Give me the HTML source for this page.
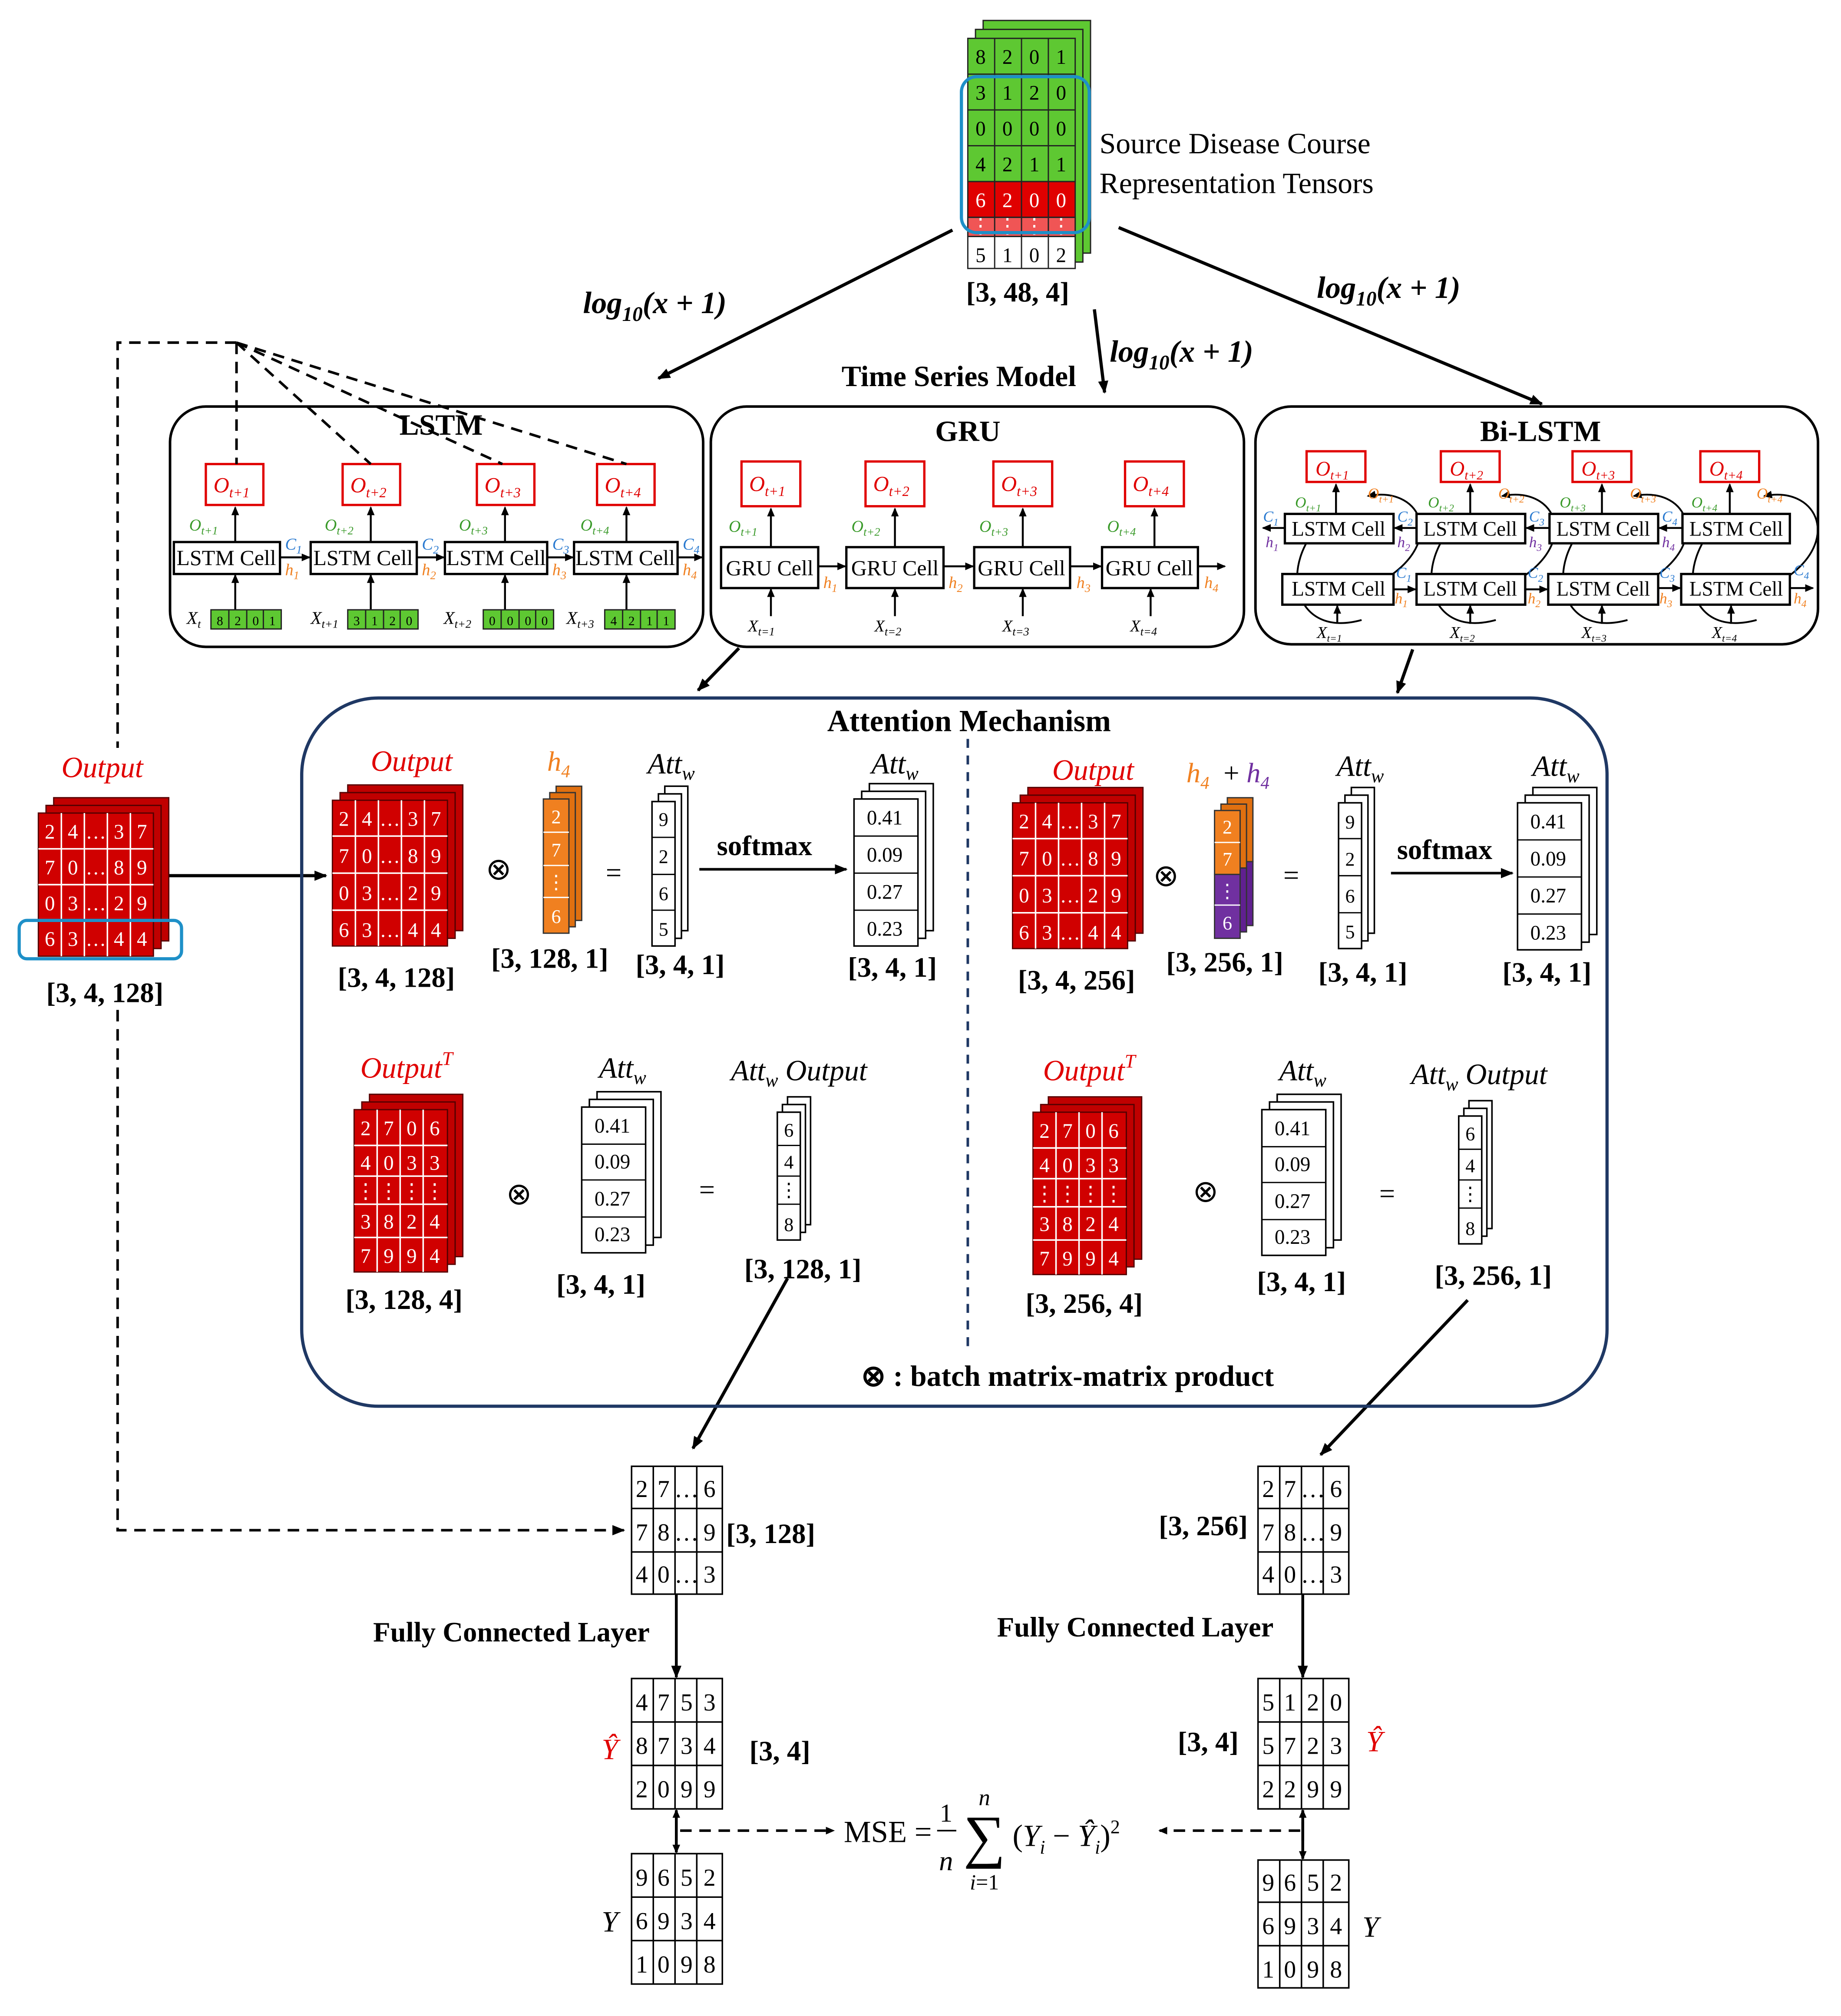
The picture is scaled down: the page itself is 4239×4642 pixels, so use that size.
<!DOCTYPE html>
<html><head><meta charset="utf-8"><style>
html,body{margin:0;padding:0;background:#fff;}
svg{display:block;}
text{font-family:"Liberation Serif",serif;}
.b{font-weight:bold;}
.i{font-style:italic;}
</style></head><body>
<svg width="4239" height="4642" viewBox="0 0 1440 1577" preserveAspectRatio="none" xmlns="http://www.w3.org/2000/svg">
<defs>
<marker id="a" markerWidth="10" markerHeight="10" refX="9" refY="5" orient="auto" markerUnits="userSpaceOnUse"><path d="M0,1 L10,5 L0,9 z" fill="#000"/></marker>
<marker id="s" markerWidth="7" markerHeight="7" refX="6" refY="3.5" orient="auto" markerUnits="userSpaceOnUse"><path d="M0,0.5 L7,3.5 L0,6.5 z" fill="#000"/></marker>
</defs>
<rect width="1440" height="1577" fill="#fff"/>

<!-- Top tensor -->
<g stroke="#222" stroke-width="1">
<rect x="769" y="16" width="84" height="182" fill="#5ec832"/>
<rect x="763" y="23" width="84" height="182" fill="#5ec832"/>
<rect x="757" y="30" width="84" height="112" fill="#5ec832"/>
<rect x="757" y="142" width="84" height="43" fill="#e00000"/>
<rect x="757" y="170" width="84" height="15" fill="#f05555"/>
<rect x="757" y="185" width="84" height="25" fill="#fff"/>
<path d="M778,30V210M799,30V210M820,30V210M757,58H841M757,86H841M757,114H841M757,142H841M757,170H841" fill="none"/>
</g>
<g font-size="16" text-anchor="middle">
<text x="767" y="50">8</text><text x="788" y="50">2</text><text x="809" y="50">0</text><text x="830" y="50">1</text>
<text x="767" y="78">3</text><text x="788" y="78">1</text><text x="809" y="78">2</text><text x="830" y="78">0</text>
<text x="767" y="106">0</text><text x="788" y="106">0</text><text x="809" y="106">0</text><text x="830" y="106">0</text>
<text x="767" y="134">4</text><text x="788" y="134">2</text><text x="809" y="134">1</text><text x="830" y="134">1</text>
<text x="767" y="162" fill="#fff">6</text><text x="788" y="162" fill="#fff">2</text><text x="809" y="162" fill="#fff">0</text><text x="830" y="162" fill="#fff">0</text>
<text x="767" y="182" fill="#fff">⋮</text><text x="788" y="182" fill="#fff">⋮</text><text x="809" y="182" fill="#fff">⋮</text><text x="830" y="182" fill="#fff">⋮</text>
<text x="767" y="205">5</text><text x="788" y="205">1</text><text x="809" y="205">0</text><text x="830" y="205">2</text>
</g>
<rect x="752" y="60" width="100" height="122" rx="12" fill="none" stroke="#1e90c8" stroke-width="2.5"/>
<text x="860" y="120" font-size="23">Source Disease Course</text>
<text x="860" y="151" font-size="23">Representation Tensors</text>
<text x="796" y="236" font-size="22" class="b" text-anchor="middle">[3, 48, 4]</text>

<!-- top arrows -->
<g stroke="#000" stroke-width="2.5" fill="none">
<line x1="745" y1="180" x2="515" y2="296" marker-end="url(#a)"/>
<line x1="856" y1="242" x2="864" y2="307" marker-end="url(#a)"/>
<line x1="875" y1="178" x2="1206" y2="316" marker-end="url(#a)"/>
</g>
<g font-size="24" class="b i">
<text x="456" y="245">log<tspan font-size="16" dy="6">10</tspan><tspan dy="-6">(x + 1)</tspan></text>
<text x="868" y="283">log<tspan font-size="16" dy="6">10</tspan><tspan dy="-6">(x + 1)</tspan></text>
<text x="1030" y="233">log<tspan font-size="16" dy="6">10</tspan><tspan dy="-6">(x + 1)</tspan></text>
</g>
<text x="750" y="302" font-size="23" class="b" text-anchor="middle">Time Series Model</text>

<!-- model boxes -->
<g fill="none" stroke="#000" stroke-width="2">
<rect x="133" y="318" width="417" height="188" rx="28"/>
<rect x="556" y="318" width="417" height="188" rx="28"/>
<rect x="982" y="318" width="440" height="186" rx="28"/>
</g>
<text x="345" y="340" font-size="23" class="b" text-anchor="middle">LSTM</text>
<text x="757" y="345" font-size="23" class="b" text-anchor="middle">GRU</text>
<text x="1205" y="345" font-size="23" class="b" text-anchor="middle">Bi-LSTM</text>

<!-- LSTM contents -->
<g fill="none" stroke="#e00000" stroke-width="1.8">
<rect x="161" y="363" width="45" height="32"/><rect x="268" y="363" width="45" height="32"/><rect x="373" y="363" width="45" height="32"/><rect x="467" y="363" width="45" height="32"/>
</g>
<g font-size="17" fill="#e00000" class="i">
<text x="167" y="385">O<tspan font-size="11" dy="4">t+1</tspan></text><text x="274" y="385">O<tspan font-size="11" dy="4">t+2</tspan></text><text x="379" y="385">O<tspan font-size="11" dy="4">t+3</tspan></text><text x="473" y="385">O<tspan font-size="11" dy="4">t+4</tspan></text>
</g>
<g fill="#fff" stroke="#000" stroke-width="1.8">
<rect x="136" y="424" width="83" height="25"/><rect x="243" y="424" width="83" height="25"/><rect x="348" y="424" width="80" height="25"/><rect x="449" y="424" width="81" height="25"/>
</g>
<g font-size="17" text-anchor="middle"><text x="177" y="442">LSTM Cell</text><text x="284" y="442">LSTM Cell</text><text x="388" y="442">LSTM Cell</text><text x="489" y="442">LSTM Cell</text></g>
<g stroke="#000" stroke-width="1.5" fill="none">
<line x1="184" y1="424" x2="184" y2="397" marker-end="url(#s)"/><line x1="290" y1="424" x2="290" y2="397" marker-end="url(#s)"/><line x1="395" y1="424" x2="395" y2="397" marker-end="url(#s)"/><line x1="490" y1="424" x2="490" y2="397" marker-end="url(#s)"/>
<line x1="219" y1="436" x2="242" y2="436" marker-end="url(#s)"/><line x1="326" y1="436" x2="347" y2="436" marker-end="url(#s)"/><line x1="428" y1="436" x2="448" y2="436" marker-end="url(#s)"/><line x1="530" y1="436" x2="549" y2="436" marker-end="url(#s)"/>
<line x1="184" y1="477" x2="184" y2="450" marker-end="url(#s)"/><line x1="290" y1="477" x2="290" y2="450" marker-end="url(#s)"/><line x1="395" y1="477" x2="395" y2="450" marker-end="url(#s)"/><line x1="490" y1="477" x2="490" y2="450" marker-end="url(#s)"/>
</g>
<g font-size="13" class="i" fill="#3a9a2a"><text x="148" y="415">O<tspan font-size="9" dy="3">t+1</tspan></text><text x="254" y="415">O<tspan font-size="9" dy="3">t+2</tspan></text><text x="359" y="415">O<tspan font-size="9" dy="3">t+3</tspan></text><text x="454" y="415">O<tspan font-size="9" dy="3">t+4</tspan></text></g>
<g font-size="13" class="i" fill="#2a7ad0"><text x="223" y="430">C<tspan font-size="9" dy="3">1</tspan></text><text x="330" y="430">C<tspan font-size="9" dy="3">2</tspan></text><text x="432" y="430">C<tspan font-size="9" dy="3">3</tspan></text><text x="534" y="430">C<tspan font-size="9" dy="3">4</tspan></text></g>
<g font-size="13" class="i" fill="#f08020"><text x="223" y="450">h<tspan font-size="9" dy="3">1</tspan></text><text x="330" y="450">h<tspan font-size="9" dy="3">2</tspan></text><text x="432" y="450">h<tspan font-size="9" dy="3">3</tspan></text><text x="534" y="450">h<tspan font-size="9" dy="3">4</tspan></text></g>
<g fill="#5ec832" stroke="#222" stroke-width="1">
<rect x="165" y="477" width="55" height="15"/><rect x="272" y="477" width="55" height="15"/><rect x="378" y="477" width="55" height="15"/><rect x="473" y="477" width="55" height="15"/>
<path d="M179,477v15M193,477v15M206,477v15M286,477v15M300,477v15M313,477v15M392,477v15M406,477v15M419,477v15M487,477v15M501,477v15M514,477v15"/>
</g>
<g font-size="10" text-anchor="middle">
<text x="172" y="489">8</text><text x="186" y="489">2</text><text x="200" y="489">0</text><text x="213" y="489">1</text>
<text x="279" y="489">3</text><text x="293" y="489">1</text><text x="307" y="489">2</text><text x="320" y="489">0</text>
<text x="385" y="489">0</text><text x="399" y="489">0</text><text x="413" y="489">0</text><text x="426" y="489">0</text>
<text x="480" y="489">4</text><text x="494" y="489">2</text><text x="508" y="489">1</text><text x="521" y="489">1</text>
</g>
<g font-size="14" class="i"><text x="146" y="488">X<tspan font-size="9" dy="3">t</tspan></text><text x="243" y="488">X<tspan font-size="9" dy="3">t+1</tspan></text><text x="347" y="488">X<tspan font-size="9" dy="3">t+2</tspan></text><text x="443" y="488">X<tspan font-size="9" dy="3">t+3</tspan></text></g>

<!-- GRU contents -->
<g fill="none" stroke="#e00000" stroke-width="1.8">
<rect x="580" y="361" width="46" height="35"/><rect x="677" y="361" width="46" height="35"/><rect x="777" y="361" width="46" height="35"/><rect x="880" y="361" width="46" height="35"/>
</g>
<g font-size="17" fill="#e00000" class="i">
<text x="586" y="384">O<tspan font-size="11" dy="4">t+1</tspan></text><text x="683" y="384">O<tspan font-size="11" dy="4">t+2</tspan></text><text x="783" y="384">O<tspan font-size="11" dy="4">t+3</tspan></text><text x="886" y="384">O<tspan font-size="11" dy="4">t+4</tspan></text>
</g>
<g fill="#fff" stroke="#000" stroke-width="1.8">
<rect x="564" y="428" width="76" height="32"/><rect x="662" y="428" width="76" height="32"/><rect x="762" y="428" width="75" height="32"/><rect x="862" y="428" width="75" height="32"/>
</g>
<g font-size="17" text-anchor="middle"><text x="602" y="450">GRU Cell</text><text x="700" y="450">GRU Cell</text><text x="799" y="450">GRU Cell</text><text x="899" y="450">GRU Cell</text></g>
<g stroke="#000" stroke-width="1.5" fill="none">
<line x1="603" y1="428" x2="603" y2="398" marker-end="url(#s)"/><line x1="700" y1="428" x2="700" y2="398" marker-end="url(#s)"/><line x1="800" y1="428" x2="800" y2="398" marker-end="url(#s)"/><line x1="903" y1="428" x2="903" y2="398" marker-end="url(#s)"/>
<line x1="640" y1="443" x2="661" y2="443" marker-end="url(#s)"/><line x1="738" y1="443" x2="761" y2="443" marker-end="url(#s)"/><line x1="837" y1="443" x2="861" y2="443" marker-end="url(#s)"/><line x1="937" y1="443" x2="958" y2="443" marker-end="url(#s)"/>
<line x1="603" y1="482" x2="603" y2="461" marker-end="url(#s)"/><line x1="700" y1="482" x2="700" y2="461" marker-end="url(#s)"/><line x1="800" y1="482" x2="800" y2="461" marker-end="url(#s)"/><line x1="900" y1="482" x2="900" y2="461" marker-end="url(#s)"/>
</g>
<g font-size="13" class="i" fill="#3a9a2a"><text x="570" y="416">O<tspan font-size="9" dy="3">t+1</tspan></text><text x="666" y="416">O<tspan font-size="9" dy="3">t+2</tspan></text><text x="766" y="416">O<tspan font-size="9" dy="3">t+3</tspan></text><text x="866" y="416">O<tspan font-size="9" dy="3">t+4</tspan></text></g>
<g font-size="13" class="i" fill="#f08020"><text x="644" y="460">h<tspan font-size="9" dy="3">1</tspan></text><text x="742" y="460">h<tspan font-size="9" dy="3">2</tspan></text><text x="842" y="460">h<tspan font-size="9" dy="3">3</tspan></text><text x="942" y="460">h<tspan font-size="9" dy="3">4</tspan></text></g>
<g font-size="13" class="i"><text x="585" y="494">X<tspan font-size="9" dy="3">t=1</tspan></text><text x="684" y="494">X<tspan font-size="9" dy="3">t=2</tspan></text><text x="784" y="494">X<tspan font-size="9" dy="3">t=3</tspan></text><text x="884" y="494">X<tspan font-size="9" dy="3">t=4</tspan></text></g>

<!-- Bi-LSTM contents -->
<g fill="none" stroke="#e00000" stroke-width="1.8">
<rect x="1022" y="353" width="46" height="24"/><rect x="1127" y="353" width="46" height="24"/><rect x="1230" y="353" width="46" height="24"/><rect x="1330" y="353" width="46" height="24"/>
</g>
<g font-size="16" fill="#e00000" class="i">
<text x="1029" y="372">O<tspan font-size="10" dy="3">t+1</tspan></text><text x="1134" y="372">O<tspan font-size="10" dy="3">t+2</tspan></text><text x="1237" y="372">O<tspan font-size="10" dy="3">t+3</tspan></text><text x="1337" y="372">O<tspan font-size="10" dy="3">t+4</tspan></text>
</g>
<g fill="none" stroke="#000" stroke-width="1.4">
<path d="M1088,450 C1130,420 1110,380 1070,388" marker-end="url(#s)"/>
<path d="M1193,450 C1235,420 1215,380 1175,388" marker-end="url(#s)"/>
<path d="M1296,450 C1338,420 1318,380 1278,388" marker-end="url(#s)"/>
<path d="M1400,450 C1440,420 1420,380 1380,388" marker-end="url(#s)"/>
<path d="M1065,485 C1010,500 1000,440 1035,408" marker-end="url(#s)"/>
<path d="M1170,485 C1115,500 1105,440 1140,408" marker-end="url(#s)"/>
<path d="M1273,485 C1218,500 1208,440 1243,408" marker-end="url(#s)"/>
<path d="M1374,485 C1318,500 1310,440 1345,408" marker-end="url(#s)"/>
</g>
<g fill="#fff" stroke="#000" stroke-width="1.8">
<rect x="1005" y="402" width="85" height="23"/><rect x="1108" y="402" width="85" height="23"/><rect x="1212" y="402" width="85" height="23"/><rect x="1316" y="402" width="84" height="23"/>
<rect x="1003" y="449" width="87" height="24"/><rect x="1108" y="449" width="85" height="24"/><rect x="1211" y="449" width="86" height="24"/><rect x="1315" y="449" width="85" height="24"/>
</g>
<g font-size="16" text-anchor="middle">
<text x="1047" y="419">LSTM Cell</text><text x="1150" y="419">LSTM Cell</text><text x="1254" y="419">LSTM Cell</text><text x="1358" y="419">LSTM Cell</text>
<text x="1047" y="466">LSTM Cell</text><text x="1150" y="466">LSTM Cell</text><text x="1254" y="466">LSTM Cell</text><text x="1358" y="466">LSTM Cell</text>
</g>
<g stroke="#000" stroke-width="1.5" fill="none">
<line x1="1045" y1="402" x2="1045" y2="379" marker-end="url(#s)"/><line x1="1150" y1="402" x2="1150" y2="379" marker-end="url(#s)"/><line x1="1253" y1="402" x2="1253" y2="379" marker-end="url(#s)"/><line x1="1353" y1="402" x2="1353" y2="379" marker-end="url(#s)"/>
<line x1="1005" y1="413" x2="988" y2="413" marker-end="url(#s)"/><line x1="1108" y1="413" x2="1091" y2="413" marker-end="url(#s)"/><line x1="1212" y1="413" x2="1194" y2="413" marker-end="url(#s)"/><line x1="1316" y1="413" x2="1298" y2="413" marker-end="url(#s)"/>
<line x1="1090" y1="461" x2="1107" y2="461" marker-end="url(#s)"/><line x1="1193" y1="461" x2="1210" y2="461" marker-end="url(#s)"/><line x1="1297" y1="460" x2="1314" y2="460" marker-end="url(#s)"/><line x1="1400" y1="460" x2="1418" y2="460" marker-end="url(#s)"/>
<line x1="1046" y1="488" x2="1046" y2="474" marker-end="url(#s)"/><line x1="1150" y1="488" x2="1150" y2="474" marker-end="url(#s)"/><line x1="1253" y1="488" x2="1253" y2="474" marker-end="url(#s)"/><line x1="1354" y1="488" x2="1354" y2="474" marker-end="url(#s)"/>
</g>
<g font-size="12" class="i" fill="#3a9a2a"><text x="1013" y="397">O<tspan font-size="8" dy="3">t+1</tspan></text><text x="1117" y="397">O<tspan font-size="8" dy="3">t+2</tspan></text><text x="1220" y="397">O<tspan font-size="8" dy="3">t+3</tspan></text><text x="1323" y="397">O<tspan font-size="8" dy="3">t+4</tspan></text></g>
<g font-size="12" class="i" fill="#f08020"><text x="1070" y="390">O<tspan font-size="8" dy="3">t+1</tspan></text><text x="1172" y="390">O<tspan font-size="8" dy="3">t+2</tspan></text><text x="1275" y="390">O<tspan font-size="8" dy="3">t+3</tspan></text><text x="1374" y="390">O<tspan font-size="8" dy="3">t+4</tspan></text>
<text x="1091" y="472">h<tspan font-size="8" dy="3">1</tspan></text><text x="1195" y="472">h<tspan font-size="8" dy="3">2</tspan></text><text x="1298" y="472">h<tspan font-size="8" dy="3">3</tspan></text><text x="1403" y="472">h<tspan font-size="8" dy="3">4</tspan></text></g>
<g font-size="12" class="i" fill="#2a7ad0"><text x="988" y="408">C<tspan font-size="8" dy="3">1</tspan></text><text x="1093" y="408">C<tspan font-size="8" dy="3">2</tspan></text><text x="1196" y="408">C<tspan font-size="8" dy="3">3</tspan></text><text x="1300" y="408">C<tspan font-size="8" dy="3">4</tspan></text>
<text x="1092" y="452">C<tspan font-size="8" dy="3">1</tspan></text><text x="1195" y="452">C<tspan font-size="8" dy="3">2</tspan></text><text x="1298" y="452">C<tspan font-size="8" dy="3">3</tspan></text><text x="1403" y="450">C<tspan font-size="8" dy="3">4</tspan></text></g>
<g font-size="12" class="i" fill="#7030a0"><text x="990" y="428">h<tspan font-size="8" dy="3">1</tspan></text><text x="1093" y="428">h<tspan font-size="8" dy="3">2</tspan></text><text x="1196" y="428">h<tspan font-size="8" dy="3">3</tspan></text><text x="1300" y="428">h<tspan font-size="8" dy="3">4</tspan></text></g>
<g font-size="13" class="i"><text x="1030" y="499">X<tspan font-size="8" dy="3">t=1</tspan></text><text x="1134" y="499">X<tspan font-size="8" dy="3">t=2</tspan></text><text x="1237" y="499">X<tspan font-size="8" dy="3">t=3</tspan></text><text x="1339" y="499">X<tspan font-size="8" dy="3">t=4</tspan></text></g>

<!-- dashed lines -->
<g stroke="#000" stroke-width="2" stroke-dasharray="9,6" fill="none">
<line x1="185" y1="268" x2="185" y2="363"/>
<line x1="185" y1="268" x2="290" y2="363"/>
<line x1="185" y1="268" x2="393" y2="363"/>
<line x1="185" y1="268" x2="490" y2="363"/>
<polyline points="185,268 92,268 92,585"/>
<polyline points="92,790 92,1197 488,1197" marker-end="url(#a)"/>
<line x1="532" y1="1432" x2="652" y2="1432" marker-end="url(#s)"/>
<line x1="1017" y1="1432" x2="907" y2="1432" marker-end="url(#s)"/>
</g>

<!-- arrows to attention -->
<g stroke="#000" stroke-width="2.5" fill="none">
<line x1="578" y1="507" x2="546" y2="540" marker-end="url(#a)"/>
<line x1="1105" y1="508" x2="1093" y2="542" marker-end="url(#a)"/>
<line x1="132" y1="685" x2="255" y2="685" marker-end="url(#a)"/>
<line x1="616" y1="1000" x2="542" y2="1133" marker-end="url(#a)"/>
<line x1="1148" y1="1017" x2="1033" y2="1138" marker-end="url(#a)"/>
</g>

<!-- Attention box -->
<rect x="236" y="546" width="1021" height="554" rx="60" fill="none" stroke="#1f3864" stroke-width="2.5"/>
<line x1="757" y1="578" x2="757" y2="1055" stroke="#1f3864" stroke-width="2" stroke-dasharray="7,6"/>
<text x="758" y="572" font-size="24" class="b" text-anchor="middle">Attention Mechanism</text>
<text x="835" y="1084" font-size="23" class="b" text-anchor="middle">⊗ : batch matrix-matrix product</text>

<!-- Left Output tensor -->
<text x="80" y="608" font-size="23" class="i" fill="#e00000" text-anchor="middle">Output</text>
<g stroke="#500" stroke-width="1"><rect x="42" y="624" width="90" height="112" fill="#c00000"/><rect x="36" y="630" width="90" height="112" fill="#c00000"/><rect x="30" y="636" width="90" height="112" fill="#d00000"/></g>
<path d="M48,636v112M66,636v112M84,636v112M102,636v112M30,664h90M30,692h90M30,720h90" stroke="#fff" stroke-width="1.2"/>
<g font-size="16" fill="#fff" text-anchor="middle">
<text x="39" y="656">2</text><text x="57" y="656">4</text><text x="75" y="656">…</text><text x="93" y="656">3</text><text x="111" y="656">7</text>
<text x="39" y="684">7</text><text x="57" y="684">0</text><text x="75" y="684">…</text><text x="93" y="684">8</text><text x="111" y="684">9</text>
<text x="39" y="712">0</text><text x="57" y="712">3</text><text x="75" y="712">…</text><text x="93" y="712">2</text><text x="111" y="712">9</text>
<text x="39" y="740">6</text><text x="57" y="740">3</text><text x="75" y="740">…</text><text x="93" y="740">4</text><text x="111" y="740">4</text>
</g>
<rect x="15" y="720" width="127" height="30" rx="6" fill="none" stroke="#1e90c8" stroke-width="2.5"/>
<text x="82" y="784" font-size="22" class="b" text-anchor="middle">[3, 4, 128]</text>

<!-- Attention left top -->
<text x="322" y="603" font-size="23" class="i" fill="#e00000" text-anchor="middle">Output</text>
<g stroke="#500" stroke-width="1"><rect x="272" y="614" width="90" height="114" fill="#c00000"/><rect x="266" y="620" width="90" height="114" fill="#c00000"/><rect x="260" y="626" width="90" height="114" fill="#d00000"/></g>
<path d="M278,626v114M296,626v114M314,626v114M332,626v114M260,654h90M260,683h90M260,712h90" stroke="#fff" stroke-width="1.2"/>
<g font-size="16" fill="#fff" text-anchor="middle">
<text x="269" y="646">2</text><text x="287" y="646">4</text><text x="305" y="646">…</text><text x="323" y="646">3</text><text x="341" y="646">7</text>
<text x="269" y="675">7</text><text x="287" y="675">0</text><text x="305" y="675">…</text><text x="323" y="675">8</text><text x="341" y="675">9</text>
<text x="269" y="704">0</text><text x="287" y="704">3</text><text x="305" y="704">…</text><text x="323" y="704">2</text><text x="341" y="704">9</text>
<text x="269" y="733">6</text><text x="287" y="733">3</text><text x="305" y="733">…</text><text x="323" y="733">4</text><text x="341" y="733">4</text>
</g>
<text x="310" y="772" font-size="22" class="b" text-anchor="middle">[3, 4, 128]</text>
<text x="390" y="688" font-size="24" text-anchor="middle">⊗</text>
<text x="437" y="603" font-size="22" class="i" fill="#f08020" text-anchor="middle">h<tspan font-size="14" dy="5">4</tspan></text>
<g stroke="#333" stroke-width="1"><rect x="435" y="615" width="20" height="105" fill="#e07010"/><rect x="430" y="620" width="20" height="105" fill="#e07010"/><rect x="425" y="625" width="20" height="105" fill="#f08020"/></g>
<path d="M425,651h20M425,677h20M425,702h20" stroke="#fff"/>
<g font-size="15" fill="#fff" text-anchor="middle"><text x="435" y="644">2</text><text x="435" y="670">7</text><text x="435" y="695">⋮</text><text x="435" y="722">6</text></g>
<text x="430" y="757" font-size="22" class="b" text-anchor="middle">[3, 128, 1]</text>
<text x="480" y="690" font-size="22" text-anchor="middle">=</text>
<text x="525" y="605" font-size="23" class="i" text-anchor="middle">Att<tspan font-size="15" dy="5">w</tspan></text>
<g stroke="#000" stroke-width="1.2" fill="#fff"><rect x="520" y="615" width="18" height="113"/><rect x="515" y="621" width="18" height="113"/><rect x="510" y="627" width="18" height="113"/></g>
<path d="M510,655h18M510,684h18M510,712h18" stroke="#000"/>
<g font-size="15" text-anchor="middle"><text x="519" y="646">9</text><text x="519" y="675">2</text><text x="519" y="704">6</text><text x="519" y="732">5</text></g>
<text x="532" y="762" font-size="22" class="b" text-anchor="middle">[3, 4, 1]</text>
<text x="598" y="669" font-size="22" class="b" text-anchor="middle">softmax</text>
<line x1="547" y1="680" x2="662" y2="680" stroke="#000" stroke-width="2" marker-end="url(#a)"/>
<text x="700" y="605" font-size="23" class="i" text-anchor="middle">Att<tspan font-size="15" dy="5">w</tspan></text>
<g stroke="#000" stroke-width="1.2" fill="#fff"><rect x="680" y="613" width="50" height="115"/><rect x="674" y="619" width="50" height="115"/><rect x="668" y="625" width="50" height="115"/></g>
<path d="M668,654h50M668,683h50M668,712h50" stroke="#000"/>
<g font-size="16" text-anchor="middle"><text x="692" y="645">0.41</text><text x="692" y="674">0.09</text><text x="692" y="703">0.27</text><text x="692" y="732">0.23</text></g>
<text x="698" y="764" font-size="22" class="b" text-anchor="middle">[3, 4, 1]</text>

<!-- Attention right top -->
<text x="855" y="610" font-size="23" class="i" fill="#e00000" text-anchor="middle">Output</text>
<g stroke="#500" stroke-width="1"><rect x="804" y="616" width="90" height="114" fill="#c00000"/><rect x="798" y="622" width="90" height="114" fill="#c00000"/><rect x="792" y="628" width="90" height="114" fill="#d00000"/></g>
<path d="M810,628v114M828,628v114M846,628v114M864,628v114M792,656h90M792,685h90M792,714h90" stroke="#fff" stroke-width="1.2"/>
<g font-size="16" fill="#fff" text-anchor="middle">
<text x="801" y="648">2</text><text x="819" y="648">4</text><text x="837" y="648">…</text><text x="855" y="648">3</text><text x="873" y="648">7</text>
<text x="801" y="677">7</text><text x="819" y="677">0</text><text x="837" y="677">…</text><text x="855" y="677">8</text><text x="873" y="677">9</text>
<text x="801" y="706">0</text><text x="819" y="706">3</text><text x="837" y="706">…</text><text x="855" y="706">2</text><text x="873" y="706">9</text>
<text x="801" y="735">6</text><text x="819" y="735">3</text><text x="837" y="735">…</text><text x="855" y="735">4</text><text x="873" y="735">4</text>
</g>
<text x="842" y="774" font-size="22" class="b" text-anchor="middle">[3, 4, 256]</text>
<text x="912" y="693" font-size="24" text-anchor="middle">⊗</text>
<text x="928" y="612" font-size="22" class="i" fill="#f08020">h<tspan font-size="14" dy="5">4</tspan></text><text x="957" y="612" font-size="22">+</text><text x="975" y="612" font-size="22" class="i" fill="#7030a0">h<tspan font-size="14" dy="5">4</tspan></text>
<g stroke="#333" stroke-width="1">
<rect x="960" y="624" width="20" height="50" fill="#e07010"/><rect x="960" y="674" width="20" height="50" fill="#602090"/>
<rect x="955" y="629" width="20" height="50" fill="#e07010"/><rect x="955" y="679" width="20" height="50" fill="#602090"/>
<rect x="950" y="634" width="20" height="50" fill="#f08020"/><rect x="950" y="684" width="20" height="50" fill="#7030a0"/></g>
<path d="M950,659h20M950,708h20" stroke="#fff"/>
<g font-size="15" fill="#fff" text-anchor="middle"><text x="960" y="652">2</text><text x="960" y="677">7</text><text x="960" y="702">⋮</text><text x="960" y="727">6</text></g>
<text x="958" y="760" font-size="22" class="b" text-anchor="middle">[3, 256, 1]</text>
<text x="1010" y="692" font-size="22" text-anchor="middle">=</text>
<text x="1064" y="607" font-size="23" class="i" text-anchor="middle">Att<tspan font-size="15" dy="5">w</tspan></text>
<g stroke="#000" stroke-width="1.2" fill="#fff"><rect x="1057" y="616" width="18" height="114"/><rect x="1052" y="622" width="18" height="114"/><rect x="1047" y="628" width="18" height="114"/></g>
<path d="M1047,656h18M1047,685h18M1047,714h18" stroke="#000"/>
<g font-size="15" text-anchor="middle"><text x="1056" y="648">9</text><text x="1056" y="677">2</text><text x="1056" y="706">6</text><text x="1056" y="734">5</text></g>
<text x="1066" y="768" font-size="22" class="b" text-anchor="middle">[3, 4, 1]</text>
<text x="1130" y="672" font-size="22" class="b" text-anchor="middle">softmax</text>
<line x1="1088" y1="683" x2="1183" y2="683" stroke="#000" stroke-width="2" marker-end="url(#a)"/>
<text x="1217" y="607" font-size="23" class="i" text-anchor="middle">Att<tspan font-size="15" dy="5">w</tspan></text>
<g stroke="#000" stroke-width="1.2" fill="#fff"><rect x="1199" y="616" width="50" height="115"/><rect x="1193" y="622" width="50" height="115"/><rect x="1187" y="628" width="50" height="115"/></g>
<path d="M1187,657h50M1187,686h50M1187,715h50" stroke="#000"/>
<g font-size="16" text-anchor="middle"><text x="1211" y="648">0.41</text><text x="1211" y="677">0.09</text><text x="1211" y="706">0.27</text><text x="1211" y="735">0.23</text></g>
<text x="1210" y="768" font-size="22" class="b" text-anchor="middle">[3, 4, 1]</text>

<!-- Attention left bottom -->
<text x="318" y="843" font-size="23" class="i" fill="#e00000" text-anchor="middle">Output<tspan font-size="15" dy="-10">T</tspan></text>
<g stroke="#500" stroke-width="1"><rect x="289" y="856" width="73" height="127" fill="#c00000"/><rect x="283" y="862" width="73" height="127" fill="#c00000"/><rect x="277" y="868" width="73" height="127" fill="#d00000"/></g>
<path d="M295,868v127M313,868v127M331,868v127M277,896h73M277,920h73M277,942h73M277,968h73" stroke="#fff" stroke-width="1.2"/>
<g font-size="16" fill="#fff" text-anchor="middle">
<text x="286" y="888">2</text><text x="304" y="888">7</text><text x="322" y="888">0</text><text x="340" y="888">6</text>
<text x="286" y="915">4</text><text x="304" y="915">0</text><text x="322" y="915">3</text><text x="340" y="915">3</text>
<text x="286" y="937">⋮</text><text x="304" y="937">⋮</text><text x="322" y="937">⋮</text><text x="340" y="937">⋮</text>
<text x="286" y="961">3</text><text x="304" y="961">8</text><text x="322" y="961">2</text><text x="340" y="961">4</text>
<text x="286" y="988">7</text><text x="304" y="988">9</text><text x="322" y="988">9</text><text x="340" y="988">4</text>
</g>
<text x="316" y="1024" font-size="22" class="b" text-anchor="middle">[3, 128, 4]</text>
<text x="406" y="942" font-size="24" text-anchor="middle">⊗</text>
<text x="487" y="843" font-size="23" class="i" text-anchor="middle">Att<tspan font-size="15" dy="5">w</tspan></text>
<g stroke="#000" stroke-width="1.2" fill="#fff"><rect x="467" y="854" width="50" height="114"/><rect x="461" y="860" width="50" height="114"/><rect x="455" y="866" width="50" height="114"/></g>
<path d="M455,895h50M455,923h50M455,952h50" stroke="#000"/>
<g font-size="16" text-anchor="middle"><text x="479" y="886">0.41</text><text x="479" y="914">0.09</text><text x="479" y="943">0.27</text><text x="479" y="971">0.23</text></g>
<text x="470" y="1012" font-size="22" class="b" text-anchor="middle">[3, 4, 1]</text>
<text x="553" y="938" font-size="22" text-anchor="middle">=</text>
<text x="625" y="845" font-size="23" class="i" text-anchor="middle">Att<tspan font-size="15" dy="5">w</tspan><tspan dy="-5"> Output</tspan></text>
<g stroke="#000" stroke-width="1.2" fill="#fff"><rect x="616" y="858" width="18" height="100"/><rect x="612" y="864" width="18" height="100"/><rect x="608" y="870" width="18" height="100"/></g>
<path d="M608,896h18M608,920h18M608,942h18" stroke="#000"/>
<g font-size="15" text-anchor="middle"><text x="617" y="889">6</text><text x="617" y="914">4</text><text x="617" y="936">⋮</text><text x="617" y="963">8</text></g>
<text x="628" y="1000" font-size="22" class="b" text-anchor="middle">[3, 128, 1]</text>

<!-- Attention right bottom -->
<text x="852" y="845" font-size="23" class="i" fill="#e00000" text-anchor="middle">Output<tspan font-size="15" dy="-10">T</tspan></text>
<g stroke="#500" stroke-width="1"><rect x="820" y="858" width="73" height="127" fill="#c00000"/><rect x="814" y="864" width="73" height="127" fill="#c00000"/><rect x="808" y="870" width="73" height="127" fill="#d00000"/></g>
<path d="M826,870v127M844,870v127M862,870v127M808,898h73M808,922h73M808,944h73M808,970h73" stroke="#fff" stroke-width="1.2"/>
<g font-size="16" fill="#fff" text-anchor="middle">
<text x="817" y="890">2</text><text x="835" y="890">7</text><text x="853" y="890">0</text><text x="871" y="890">6</text>
<text x="817" y="917">4</text><text x="835" y="917">0</text><text x="853" y="917">3</text><text x="871" y="917">3</text>
<text x="817" y="939">⋮</text><text x="835" y="939">⋮</text><text x="853" y="939">⋮</text><text x="871" y="939">⋮</text>
<text x="817" y="963">3</text><text x="835" y="963">8</text><text x="853" y="963">2</text><text x="871" y="963">4</text>
<text x="817" y="990">7</text><text x="835" y="990">9</text><text x="853" y="990">9</text><text x="871" y="990">4</text>
</g>
<text x="848" y="1027" font-size="22" class="b" text-anchor="middle">[3, 256, 4]</text>
<text x="943" y="940" font-size="24" text-anchor="middle">⊗</text>
<text x="1019" y="845" font-size="23" class="i" text-anchor="middle">Att<tspan font-size="15" dy="5">w</tspan></text>
<g stroke="#000" stroke-width="1.2" fill="#fff"><rect x="999" y="856" width="50" height="114"/><rect x="993" y="862" width="50" height="114"/><rect x="987" y="868" width="50" height="114"/></g>
<path d="M987,897h50M987,925h50M987,954h50" stroke="#000"/>
<g font-size="16" text-anchor="middle"><text x="1011" y="888">0.41</text><text x="1011" y="916">0.09</text><text x="1011" y="945">0.27</text><text x="1011" y="973">0.23</text></g>
<text x="1018" y="1010" font-size="22" class="b" text-anchor="middle">[3, 4, 1]</text>
<text x="1085" y="941" font-size="22" text-anchor="middle">=</text>
<text x="1157" y="848" font-size="23" class="i" text-anchor="middle">Att<tspan font-size="15" dy="5">w</tspan><tspan dy="-5"> Output</tspan></text>
<g stroke="#000" stroke-width="1.2" fill="#fff"><rect x="1149" y="861" width="18" height="100"/><rect x="1145" y="867" width="18" height="100"/><rect x="1141" y="873" width="18" height="100"/></g>
<path d="M1141,899h18M1141,923h18M1141,945h18" stroke="#000"/>
<g font-size="15" text-anchor="middle"><text x="1150" y="892">6</text><text x="1150" y="917">4</text><text x="1150" y="939">⋮</text><text x="1150" y="966">8</text></g>
<text x="1168" y="1005" font-size="22" class="b" text-anchor="middle">[3, 256, 1]</text>

<!-- Bottom left matrices -->
<g fill="#fff" stroke="#000" stroke-width="1.2">
<rect x="494" y="1147" width="71" height="100"/><path d="M511,1147v100M528,1147v100M545,1147v100M494,1180h71M494,1214h71"/>
<rect x="494" y="1313" width="71" height="102"/><path d="M511,1313v102M528,1313v102M545,1313v102M494,1347h71M494,1381h71"/>
<rect x="494" y="1450" width="71" height="102"/><path d="M511,1450v102M528,1450v102M545,1450v102M494,1484h71M494,1518h71"/>
<rect x="984" y="1147" width="71" height="100"/><path d="M1001,1147v100M1018,1147v100M1035,1147v100M984,1180h71M984,1214h71"/>
<rect x="984" y="1313" width="71" height="102"/><path d="M1001,1313v102M1018,1313v102M1035,1313v102M984,1347h71M984,1381h71"/>
<rect x="984" y="1455" width="71" height="100"/><path d="M1001,1455v100M1018,1455v100M1035,1455v100M984,1488h71M984,1522h71"/>
</g>
<g font-size="19" text-anchor="middle">
<text x="502" y="1171">2</text><text x="519" y="1171">7</text><text x="537" y="1171">…</text><text x="555" y="1171">6</text>
<text x="502" y="1205">7</text><text x="519" y="1205">8</text><text x="537" y="1205">…</text><text x="555" y="1205">9</text>
<text x="502" y="1238">4</text><text x="519" y="1238">0</text><text x="537" y="1238">…</text><text x="555" y="1238">3</text>
<text x="502" y="1338">4</text><text x="519" y="1338">7</text><text x="537" y="1338">5</text><text x="555" y="1338">3</text>
<text x="502" y="1372">8</text><text x="519" y="1372">7</text><text x="537" y="1372">3</text><text x="555" y="1372">4</text>
<text x="502" y="1406">2</text><text x="519" y="1406">0</text><text x="537" y="1406">9</text><text x="555" y="1406">9</text>
<text x="502" y="1475">9</text><text x="519" y="1475">6</text><text x="537" y="1475">5</text><text x="555" y="1475">2</text>
<text x="502" y="1509">6</text><text x="519" y="1509">9</text><text x="537" y="1509">3</text><text x="555" y="1509">4</text>
<text x="502" y="1543">1</text><text x="519" y="1543">0</text><text x="537" y="1543">9</text><text x="555" y="1543">8</text>
<text x="992" y="1171">2</text><text x="1009" y="1171">7</text><text x="1027" y="1171">…</text><text x="1045" y="1171">6</text>
<text x="992" y="1205">7</text><text x="1009" y="1205">8</text><text x="1027" y="1205">…</text><text x="1045" y="1205">9</text>
<text x="992" y="1238">4</text><text x="1009" y="1238">0</text><text x="1027" y="1238">…</text><text x="1045" y="1238">3</text>
<text x="992" y="1338">5</text><text x="1009" y="1338">1</text><text x="1027" y="1338">2</text><text x="1045" y="1338">0</text>
<text x="992" y="1372">5</text><text x="1009" y="1372">7</text><text x="1027" y="1372">2</text><text x="1045" y="1372">3</text>
<text x="992" y="1406">2</text><text x="1009" y="1406">2</text><text x="1027" y="1406">9</text><text x="1045" y="1406">9</text>
<text x="992" y="1479">9</text><text x="1009" y="1479">6</text><text x="1027" y="1479">5</text><text x="1045" y="1479">2</text>
<text x="992" y="1513">6</text><text x="1009" y="1513">9</text><text x="1027" y="1513">3</text><text x="1045" y="1513">4</text>
<text x="992" y="1547">1</text><text x="1009" y="1547">0</text><text x="1027" y="1547">9</text><text x="1045" y="1547">8</text>
</g>
<g stroke="#000" stroke-width="2.2" fill="none">
<line x1="529" y1="1247" x2="529" y2="1312" marker-end="url(#a)"/>
<line x1="1019" y1="1247" x2="1019" y2="1312" marker-end="url(#a)"/>
<line x1="529" y1="1425" x2="529" y2="1449" marker-end="url(#s)"/><line x1="529" y1="1440" x2="529" y2="1416" marker-end="url(#s)"/>
<line x1="1019" y1="1425" x2="1019" y2="1454" marker-end="url(#s)"/><line x1="1019" y1="1440" x2="1019" y2="1416" marker-end="url(#s)"/>
</g>
<text x="568" y="1207" font-size="22" class="b">[3, 128]</text>
<text x="976" y="1201" font-size="22" class="b" text-anchor="end">[3, 256]</text>
<text x="400" y="1284" font-size="22" class="b" text-anchor="middle">Fully Connected Layer</text>
<text x="888" y="1280" font-size="22" class="b" text-anchor="middle">Fully Connected Layer</text>
<text x="610" y="1377" font-size="22" class="b" text-anchor="middle">[3, 4]</text>
<text x="945" y="1370" font-size="22" class="b" text-anchor="middle">[3, 4]</text>
<text x="477" y="1376" font-size="23" class="i" fill="#e00000" text-anchor="middle">Ŷ</text>
<text x="1075" y="1370" font-size="23" class="i" fill="#e00000" text-anchor="middle">Ŷ</text>
<text x="477" y="1511" font-size="23" class="i" text-anchor="middle">Y</text>
<text x="1072" y="1515" font-size="23" class="i" text-anchor="middle">Y</text>

<!-- MSE -->
<text x="660" y="1441" font-size="24">MSE =</text>
<text x="740" y="1425" font-size="20" text-anchor="middle">1</text>
<line x1="733" y1="1432" x2="748" y2="1432" stroke="#000" stroke-width="1.2"/>
<text x="740" y="1463" font-size="22" class="i" text-anchor="middle">n</text>
<text x="770" y="1412" font-size="18" class="i" text-anchor="middle">n</text>
<text x="770" y="1452" font-size="46" text-anchor="middle">∑</text>
<text x="770" y="1478" font-size="17" class="i" text-anchor="middle">i<tspan font-style="normal">=1</tspan></text>
<text x="792" y="1444" font-size="24">(<tspan font-style="italic">Y</tspan><tspan font-size="15" font-style="italic" dy="6">i</tspan><tspan dy="-6"> − </tspan><tspan font-style="italic">Ŷ</tspan><tspan font-size="15" font-style="italic" dy="6">i</tspan><tspan dy="-6">)</tspan><tspan font-size="15" dy="-10">2</tspan></text>
</svg>
</body></html>
